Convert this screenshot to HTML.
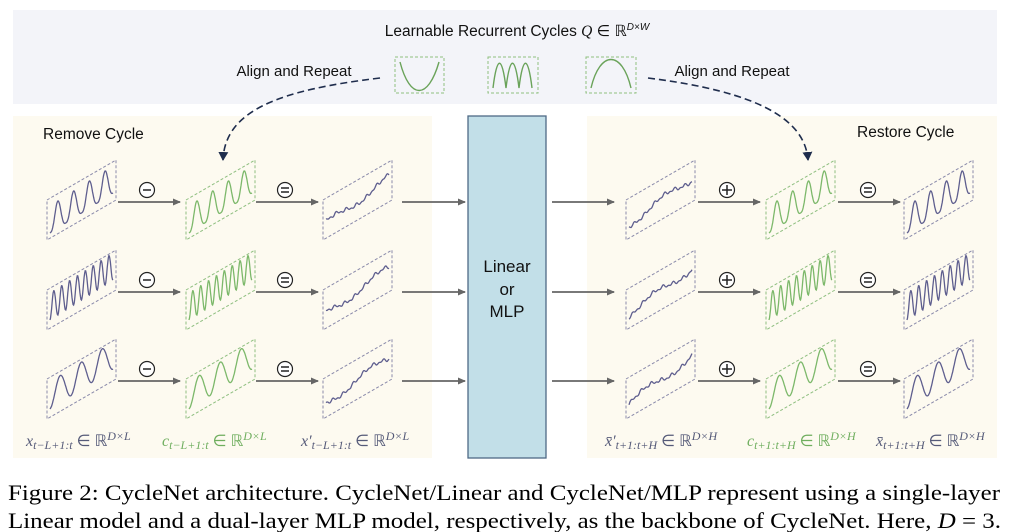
<!DOCTYPE html>
<html><head><meta charset="utf-8"><style>
html,body{margin:0;padding:0;background:#fff;width:1012px;height:532px;overflow:hidden}
svg{display:block}
</style></head><body>
<svg id="s" width="1012" height="532" viewBox="0 0 1012 532" xmlns="http://www.w3.org/2000/svg">
<defs>
<marker id="ah" markerWidth="8" markerHeight="8" refX="7" refY="4" orient="auto" markerUnits="userSpaceOnUse"><path d="M0,0.5 L8,4 L0,7.5 z" fill="#666"/></marker>
<marker id="dh" markerWidth="10" markerHeight="10" refX="8" refY="5" orient="auto" markerUnits="userSpaceOnUse"><path d="M0,0 L9,5 L0,10 z" fill="#1f2d4d"/></marker>
</defs>
<rect x="13" y="10" width="984" height="94" fill="#f3f4f9"/>
<rect x="13" y="116" width="419" height="342" fill="#fdfaf0"/>
<rect x="587" y="116" width="410" height="342" fill="#fdfaf0"/>
<rect x="468" y="116" width="78" height="342" fill="#c2dfe8" stroke="#4f6a85" stroke-width="1.3"/>
<g font-family="Liberation Sans, sans-serif" fill="#111">
<text x="517" y="36" font-size="15.5" text-anchor="middle">Learnable Recurrent Cycles <tspan font-family="Liberation Serif" font-style="italic">Q</tspan> ∈ ℝ<tspan font-size="10" dy="-6" font-style="italic">D×W</tspan></text>
<text x="294" y="76" font-size="15" text-anchor="middle">Align and Repeat</text>
<text x="732" y="76" font-size="15" text-anchor="middle">Align and Repeat</text>
<text x="43" y="139" font-size="15.5">Remove Cycle</text>
<text x="857" y="137" font-size="15.5">Restore Cycle</text>
<text x="507" y="272" font-size="17" text-anchor="middle">Linear</text>
<text x="507" y="295" font-size="17" text-anchor="middle">or</text>
<text x="507" y="317" font-size="17" text-anchor="middle">MLP</text>
</g>
<g font-family="Liberation Serif, serif" font-size="16" font-style="italic">
<text x="26" y="446" fill="#555a78">x<tspan font-size="12" dy="3">t−L+1:t</tspan><tspan dy="-3" font-style="normal"> ∈ ℝ</tspan><tspan font-size="12" dy="-6">D×L</tspan></text>
<text x="162" y="446" fill="#6fae5e">c<tspan font-size="12" dy="3">t−L+1:t</tspan><tspan dy="-3" font-style="normal"> ∈ ℝ</tspan><tspan font-size="12" dy="-6">D×L</tspan></text>
<text x="301" y="446" fill="#555a78">x′<tspan font-size="12" dy="3">t−L+1:t</tspan><tspan dy="-3" font-style="normal"> ∈ ℝ</tspan><tspan font-size="12" dy="-6">D×L</tspan></text>
<text x="605" y="446" fill="#555a78">x̄′<tspan font-size="12" dy="3">t+1:t+H</tspan><tspan dy="-3" font-style="normal"> ∈ ℝ</tspan><tspan font-size="12" dy="-6">D×H</tspan></text>
<text x="747" y="446" fill="#6fae5e">c<tspan font-size="12" dy="3">t+1:t+H</tspan><tspan dy="-3" font-style="normal"> ∈ ℝ</tspan><tspan font-size="12" dy="-6">D×H</tspan></text>
<text x="876" y="446" fill="#555a78">x̄<tspan font-size="12" dy="3">t+1:t+H</tspan><tspan dy="-3" font-style="normal"> ∈ ℝ</tspan><tspan font-size="12" dy="-6">D×H</tspan></text>
</g>
<g fill="none" stroke="#8fbf80" stroke-dasharray="3,2" stroke-width="1">
<rect x="395" y="57" width="49" height="36"/><rect x="488" y="57" width="50" height="36"/><rect x="586" y="57" width="50" height="36"/>
</g>
<g fill="none" stroke="#6aa35a" stroke-width="1.4">
<path d="M400,62 C410,100 428,100 439,62"/>
<path d="M493,88 C497,55 502,55 506,88 C510,55 515,55 519,88 C523,55 528,55 532,88"/>
<path d="M591,88 C600,50 622,50 631,88"/>
</g>
<g fill="none" stroke="#1f2d4d" stroke-width="1.6" stroke-dasharray="7,4">
<path d="M380,78 C280,90 225,110 223,160" marker-end="url(#dh)"/>
<path d="M648,78 C760,92 805,120 808,160" marker-end="url(#dh)"/>
</g>
<g id="dyn"></g>
<g font-family="Liberation Serif, serif" font-size="22" fill="#000">
<text x="8" y="500" textLength="992" lengthAdjust="spacingAndGlyphs">Figure 2: CycleNet architecture. CycleNet/Linear and CycleNet/MLP represent using a single-layer</text>
<text x="8" y="528" textLength="993" lengthAdjust="spacingAndGlyphs">Linear model and a dual-layer MLP model, respectively, as the backbone of CycleNet. Here, <tspan font-style="italic">D</tspan> = 3.</text>
</g>
</svg>
<script>
(function(){
var g=document.getElementById('dyn'),h='';
var rows=[200,290,379],colsL=[47,186,323],colsR=[626,766,904];
var P='#5e5e8e',G='#7cb86a';
function para(x,yc,col){
 var w=69,hh=40;
 return '<path d="M'+x+','+(yc)+' L'+(x+w)+','+(yc-hh)+' L'+(x+w)+','+(yc)+' L'+x+','+(yc+hh)+' Z" fill="none" stroke="'+col+'" stroke-dasharray="3,2" stroke-width="1"/>';
}
function curve(x,yc,f,col){
 var d='';for(var i=0;i<=120;i++){var u=i/120;var px=x+3+u*63;var base=yc+30-u*40;var py=base-f(u)*30;d+=(i?'L':'M')+px.toFixed(1)+','+py.toFixed(1);}
 return '<path d="'+d+'" fill="none" stroke="'+col+'" stroke-width="1.3"/>';
}
function peaks(n,p){return function(u){var s=Math.abs(Math.sin(Math.PI*n*u));return Math.pow(s,p)*0.9-0.1;}}
function sinw(n){return function(u){return 0.45+0.45*Math.sin(2*Math.PI*n*u-1.5);}}
function noisy(seed){return function(u){return 0.2+0.2*u+0.04*Math.sin(40*u+seed)+0.03*Math.sin(77*u+seed*2)+0.12*Math.sin(7*u+seed);}}
var cyc=[peaks(4,3),sinw(8),sinw(3)];
rows.forEach(function(y,r){
 h+=para(colsL[0],y,'#8a8aaa')+curve(colsL[0],y,cyc[r],P);
 h+=para(colsL[1],y,'#8fbf80')+curve(colsL[1],y,cyc[r],G);
 h+=para(colsL[2],y,'#8a8aaa')+curve(colsL[2],y,noisy(r+1),P);
 h+=para(colsR[0],y,'#8a8aaa')+curve(colsR[0],y,noisy(r+4),P);
 h+=para(colsR[1],y,'#8fbf80')+curve(colsR[1],y,cyc[r],G);
 h+=para(colsR[2],y,'#8a8aaa')+curve(colsR[2],y,cyc[r],P);
 var ay=y+2;
 [[118,180],[256,318],[402,465],[552,614],[698,760],[838,900]].forEach(function(a){
  h+='<line x1="'+a[0]+'" y1="'+ay+'" x2="'+a[1]+'" y2="'+ay+'" stroke="#666" stroke-width="1.8" marker-end="url(#ah)"/>';});
 var oy=y-10;
 [[147,'−'],[285,'='],[727,'+'],[868,'=']].forEach(function(o){
  h+='<circle cx="'+o[0]+'" cy="'+oy+'" r="7.5" fill="#fff" stroke="#222" stroke-width="1.2"/>';
  if(o[1]=='−'){h+='<line x1="'+(o[0]-4)+'" y1="'+oy+'" x2="'+(o[0]+4)+'" y2="'+oy+'" stroke="#222" stroke-width="1.5"/>';}
  else if(o[1]=='='){h+='<line x1="'+(o[0]-4)+'" y1="'+(oy-2)+'" x2="'+(o[0]+4)+'" y2="'+(oy-2)+'" stroke="#222" stroke-width="1.5"/><line x1="'+(o[0]-4)+'" y1="'+(oy+2)+'" x2="'+(o[0]+4)+'" y2="'+(oy+2)+'" stroke="#222" stroke-width="1.5"/>';}
  else {h+='<line x1="'+(o[0]-5)+'" y1="'+oy+'" x2="'+(o[0]+5)+'" y2="'+oy+'" stroke="#222" stroke-width="1.5"/><line x1="'+o[0]+'" y1="'+(oy-5)+'" x2="'+o[0]+'" y2="'+(oy+5)+'" stroke="#222" stroke-width="1.5"/>';}
 });
});
g.innerHTML=h;
})();
</script>
</body></html>
